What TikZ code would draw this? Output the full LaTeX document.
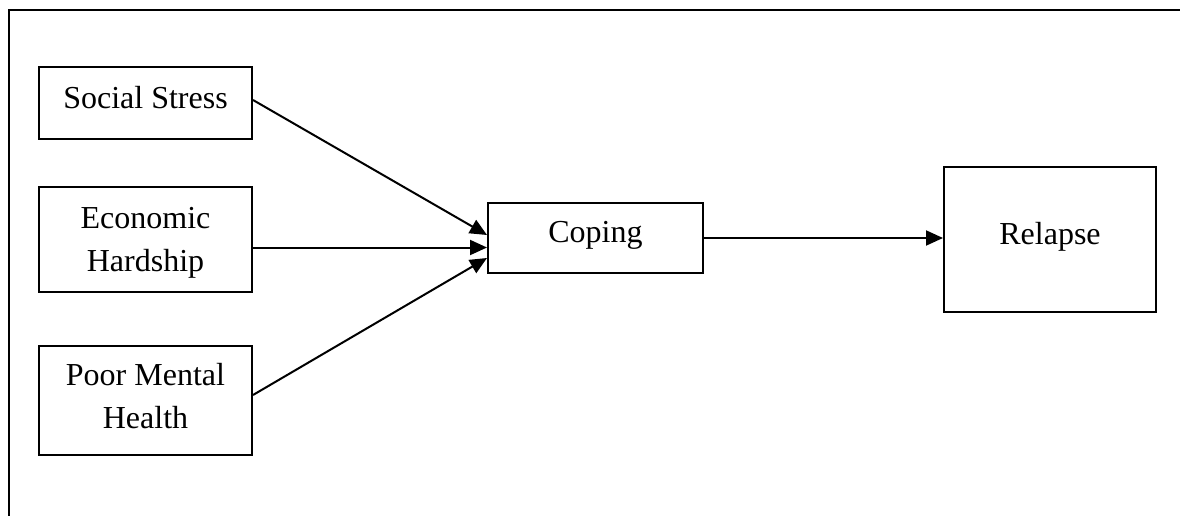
\documentclass[tikz,border=0pt]{standalone}
\usepackage{fontspec}
\setmainfont{Liberation Serif}
\usetikzlibrary{arrows.meta}
\newcommand\onestrut{\rule[-12pt]{0pt}{22pt}}
\begin{document}
\begin{tikzpicture}[x=1pt,y=-1pt,
  box/.style={draw, line width=2pt, align=center, inner sep=0pt,
    font=\fontsize{32}{43}\selectfont},
  conn/.style={line width=2pt, -{Triangle[length=17pt,width=15pt]}}]
\useasboundingbox (0,0) rectangle (1180,516);
% open frame
\draw[line width=2.6pt] (9,516) -- (9,10) -- (1180,10);
\node[box, minimum width=213pt, minimum height=72pt] (ss) at (145.5,103) {\onestrut Social Stress};
\node[box, minimum width=213pt, minimum height=105pt] (eh) at (145.5,239.5) {\rule{0pt}{28pt}Economic\\Hardship\rule[-7pt]{0pt}{0pt}};
\node[box, minimum width=213pt, minimum height=109pt] (pm) at (145.5,400.5) {Poor Mental\\Health\rule[-9pt]{0pt}{0pt}};
\node[box, minimum width=215pt, minimum height=70pt] (cop) at (595.5,238) {\onestrut Coping};
\node[box, minimum width=212pt, minimum height=145pt] (rel) at (1050,239.5) {\onestrut Relapse};
\coordinate (ehout) at ([yshift=-8pt]eh.east);
\draw[conn] ([yshift=3pt]ss.east) -- ([yshift=3pt]cop.west);
\draw[conn] (ehout) -- (ehout -| cop.west);
\draw[conn] ([yshift=5.5pt]pm.east) -- ([yshift=-20pt]cop.west);
\draw[conn] (cop.east) -- (cop.east -| rel.west);
\end{tikzpicture}
\end{document}
